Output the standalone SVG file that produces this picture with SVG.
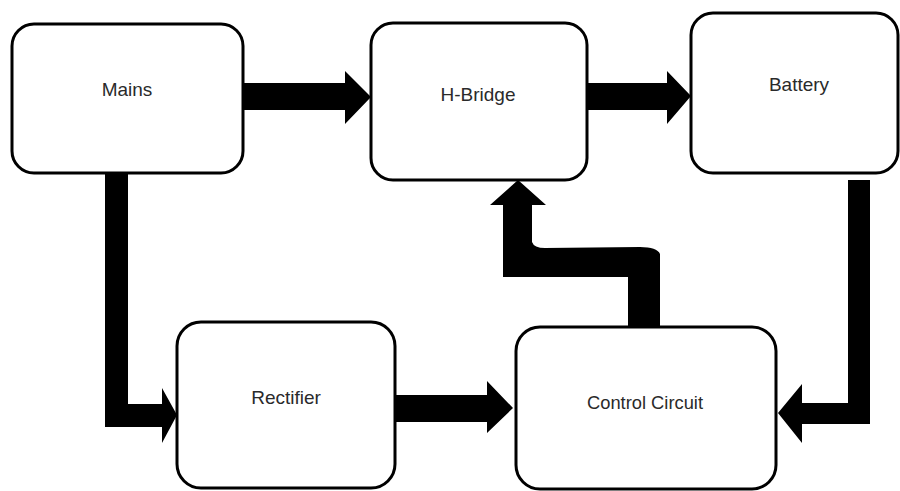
<svg xmlns="http://www.w3.org/2000/svg" width="900" height="491" viewBox="0 0 900 491">
  <style>
    .box { fill: #ffffff; stroke: #000000; stroke-width: 3; }
    .label { font-family: "Liberation Sans", Arial, sans-serif; font-size: 19px; fill: #2a2a2a; text-anchor: middle; }
    .arrow { fill: #000000; stroke: none; }
  </style>
  <rect width="900" height="491" fill="#ffffff"/>

  <!-- block arrows -->
  <g id="connectors">
    <!-- Mains to H-Bridge -->
    <polygon class="arrow" points="243,83 345,83 345,71 371,97 345,124 345,110 243,110"/>
    <!-- H-Bridge to Battery -->
    <polygon class="arrow" points="587,83 667,83 667,71 691,96 667,124 667,110 587,110"/>
    <!-- Mains down to Rectifier -->
    <polygon class="arrow" points="105,167 128,167 128,404 162,404 162,388 177,415 162,443 162,427 105,427"/>
    <!-- Rectifier to Control Circuit -->
    <polygon class="arrow" points="395,395 487,395 487,381 513,408 487,433 487,422 395,422"/>
    <!-- Battery down to Control Circuit -->
    <polygon class="arrow" points="848,180 870,180 870,424 802,424 802,443 778,413 802,384 802,403 848,403"/>
    <!-- Control Circuit up to H-Bridge -->
    <path class="arrow" d="M518,180 L546,205 L532,205 L532,242 Q534,248 545,248 L640,247 Q657,247 660,254 L660,326 L628,326 L628,277 L503,277 L503,205 L490,205 Z"/>
  </g>

  <g id="mains">
    <rect class="box" x="12" y="24" width="231" height="149" rx="22"/>
    <text class="label" x="127" y="96">Mains</text>
  </g>

  <g id="h-bridge">
    <rect class="box" x="371" y="23" width="216" height="157" rx="22"/>
    <text class="label" x="478" y="101">H-Bridge</text>
  </g>

  <g id="battery">
    <rect class="box" x="691" y="13" width="207" height="160" rx="22"/>
    <text class="label" x="799" y="91">Battery</text>
  </g>

  <g id="rectifier">
    <rect class="box" x="177" y="322" width="218" height="166" rx="24"/>
    <text class="label" x="286" y="404">Rectifier</text>
  </g>

  <g id="control-circuit">
    <rect class="box" x="516" y="327" width="260" height="162" rx="24"/>
    <text class="label" x="645" y="409" textLength="116" lengthAdjust="spacingAndGlyphs">Control Circuit</text>
  </g>
</svg>
